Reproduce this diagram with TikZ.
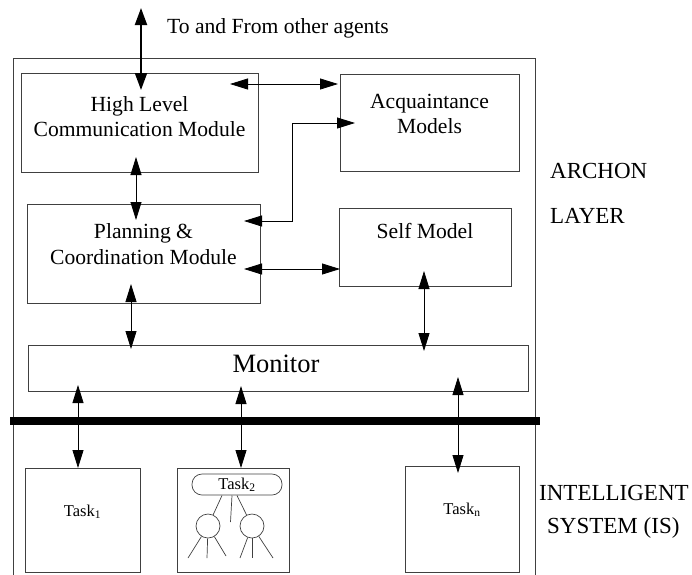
\documentclass[tikz,border=0pt]{standalone}
\usepackage{fontspec}
\setmainfont{Liberation Serif}
\usetikzlibrary{arrows.meta}
\begin{document}
\begin{tikzpicture}[x=1pt,y=-1pt,
  box/.style={draw=black!75, line width=0.8pt, anchor=north west, inner sep=0pt, outer sep=0pt},
  frame/.style={draw=black!75, line width=0.8pt},
  lbl/.style={anchor=base, inner sep=0pt, font=\fontsize{21.6}{25}\selectfont},
  side/.style={anchor=base west, inner sep=0pt, font=\fontsize{23}{27}\selectfont},
  tasklbl/.style={anchor=base, inner sep=0pt, font=\fontsize{16.5}{19}\selectfont},
  link/.style={line width=0.8pt, {Triangle[length=18pt,width=11pt]}-{Triangle[length=18pt,width=11pt]}},
  biglink/.style={line width=2pt, {Triangle[length=17pt,width=12pt]}-{Triangle[length=17pt,width=12pt]}},
  twig/.style={draw=black!75, line width=0.7pt},
]
\useasboundingbox (0,0) rectangle (692,574);

% outer frame of the agent and the layer separator
\draw[frame] (13,580) -- (13,58) -- (535,58) -- (535,580);
\draw[line width=8pt] (10,421) -- (540,421);

% ARCHON layer modules
\node[box, minimum width=237pt, minimum height=99pt] (hlcm) at (21,73) {};
\node[box, minimum width=179pt, minimum height=97pt] (acq) at (340,74) {};
\node[box, minimum width=233pt, minimum height=99pt] (plan) at (27,204) {};
\node[box, minimum width=172pt, minimum height=78pt] (self) at (339,208) {};
\node[box, minimum width=500pt, minimum height=46pt] (mon) at (28,345) {};

\node[lbl] (hlcmA) at (139.5,111) {High Level};
\node[lbl] (hlcmB) at (139.5,136) {Communication Module};
\node[lbl] (acqA) at (429.5,108) {Acquaintance};
\node[lbl] (acqB) at (429.5,133) {Models};
\node[lbl] (planA) at (143.5,238) {Planning \&};
\node[lbl] (planB) at (143.5,264) {Coordination Module};
\node[lbl] (selfA) at (425,238) {Self Model};
\node[lbl, font=\fontsize{26.5}{30}\selectfont] (monA) at (276,372) {Monitor};

% intelligent system tasks
\node[box, minimum width=115pt, minimum height=104pt] (t1) at (25,468) {};
\node[box, minimum width=112pt, minimum height=104pt] (t2) at (177,468) {};
\node[box, minimum width=114pt, minimum height=106pt] (tn) at (405,466) {};
\node[tasklbl] (t1A) at (82.5,516) {Task\textsubscript{1}};
\node[tasklbl] (tnA) at (462,514) {Task\textsubscript{n}};

% task 2 drawn as a small tree
\node[twig, rounded corners=10pt, minimum width=90pt, minimum height=21pt, inner sep=0pt] (pill) at (237,484.5) {};
\node[tasklbl] (t2A) at (237,489) {Task\textsubscript{2}};
\node[twig, circle, minimum size=24pt, inner sep=0pt] (c1) at (208,526) {};
\node[twig, circle, minimum size=24pt, inner sep=0pt] (c2) at (252,526) {};
\coordinate (p1) at (222,495.5);
\coordinate (p2) at (232,495.5);
\coordinate (p3) at (237,495.5);
\coordinate (m1) at (230.5,522);
\coordinate (l1) at (188,558);
\coordinate (l2) at (207,558);
\coordinate (l3) at (226,556);
\coordinate (r1) at (240,558);
\coordinate (r2) at (252,558);
\coordinate (r3) at (273,558);
\draw[twig] (p1) -- (c1);
\draw[twig] (p2) -- (m1);
\draw[twig] (p3) -- (c2);
\draw[twig] (c1) -- (l1);
\draw[twig] (c1) -- (l2);
\draw[twig] (c1) -- (l3);
\draw[twig] (c2) -- (r1);
\draw[twig] (c2) -- (r2);
\draw[twig] (c2) -- (r3);

% right-hand captions
\node[lbl, anchor=base west] (ext) at (167,33) {To and From other agents};
\node[side] (capA) at (550,178) {ARCHON};
\node[side] (capB) at (550,223) {LAYER};
\node[side] (capC) at (539,500) {INTELLIGENT};
\node[side] (capD) at (547,533) {SYSTEM (IS)};

% connector end points
\coordinate (topEnd) at (141,8);
\coordinate (hlcmTop) at (141,90);
\coordinate (hlcmR) at (230,84);
\coordinate (acqL) at (338,84);
\coordinate (acqIn) at (355,123);
\coordinate (bendA) at (292,123);
\coordinate (bendB) at (292,221);
\coordinate (planIn) at (244,221);
\coordinate (hlcmBot) at (136,157);
\coordinate (planTop) at (136,220);
\coordinate (planR) at (244,269);
\coordinate (selfL) at (340,269);
\coordinate (planBot) at (131,284);
\coordinate (monTopA) at (131,349);
\coordinate (selfBot) at (424,271);
\coordinate (monTopB) at (424,351);
\coordinate (monBotA) at (78,385);
\coordinate (monBotB) at (241,386);
\coordinate (monBotC) at (458,377);
\coordinate (t1Top) at (78,468);
\coordinate (t2Top) at (241,468);
\coordinate (tnTop) at (458,473);

% connectors
\draw[biglink] (topEnd) -- (hlcmTop);
\draw[link] (hlcmR) -- (acqL);
\draw[link] (planIn) -- (bendB) -- (bendA) -- (acqIn);
\draw[link] (hlcmBot) -- (planTop);
\draw[link] (planR) -- (selfL);
\draw[link] (planBot) -- (monTopA);
\draw[link] (selfBot) -- (monTopB);
\draw[link] (monBotA) -- (t1Top);
\draw[link] (monBotB) -- (t2Top);
\draw[link] (monBotC) -- (tnTop);
\end{tikzpicture}
\end{document}
